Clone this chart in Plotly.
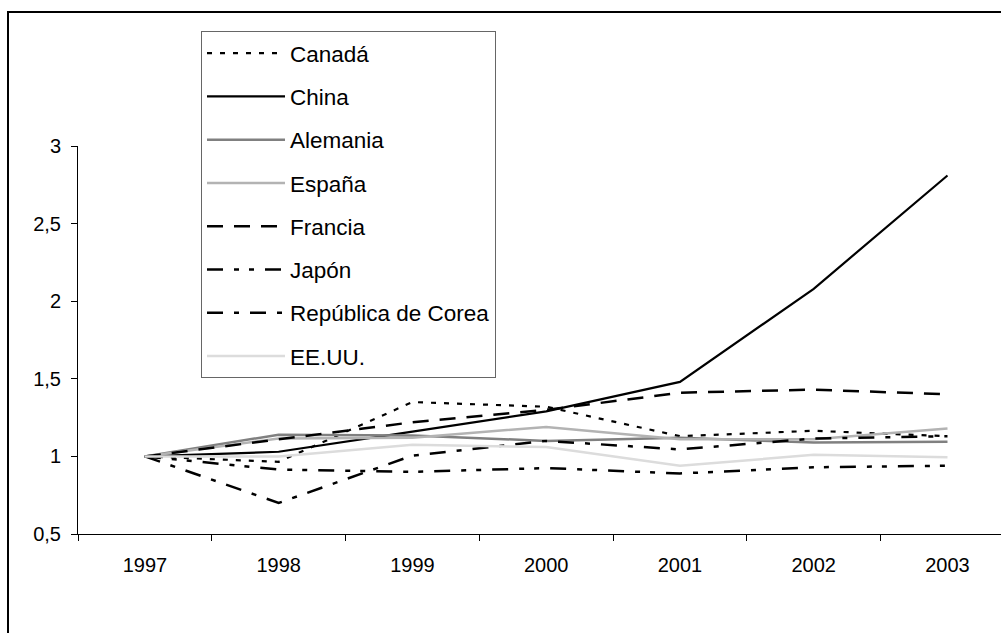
import plotly.graph_objects as go

years = [1997, 1998, 1999, 2000, 2001, 2002, 2003]

canada = [1.00, 0.965, 1.35, 1.32, 1.13, 1.165, 1.13]
china = [1.00, 1.03, 1.16, 1.29, 1.48, 2.08, 2.81]
alemania = [1.00, 1.14, 1.135, 1.10, 1.12, 1.09, 1.095]
espana = [1.00, 1.115, 1.12, 1.19, 1.11, 1.11, 1.18]
francia = [1.00, 1.11, 1.22, 1.30, 1.41, 1.43, 1.40]
japon = [1.00, 0.915, 0.90, 0.925, 0.89, 0.93, 0.94]
corea = [1.00, 0.70, 1.005, 1.10, 1.045, 1.115, 1.13]
eeuu = [1.00, 1.00, 1.075, 1.06, 0.94, 1.01, 0.995]

names = ["Canadá", "China", "Alemania", "España", "Francia", "Japón",
         "República de Corea", "EE.UU."]
series = [canada, china, alemania, espana, francia, japon, corea, eeuu]
styles = [
    dict(color="#000000", width=2.2, dash="5px,8px"),
    dict(color="#000000", width=2.2, dash="solid"),
    dict(color="#808080", width=2.5, dash="solid"),
    dict(color="#b3b3b3", width=2.5, dash="solid"),
    dict(color="#000000", width=2.5, dash="16px,11px"),
    dict(color="#000000", width=2.5, dash="16px,11px,5px,10px,5px,11px"),
    dict(color="#000000", width=2.5, dash="16px,11px,5px,11px"),
    dict(color="#dcdcdc", width=2.5, dash="solid"),
]

fig = go.Figure()
for i, (n, s, st) in enumerate(zip(names, series, styles)):
    fig.add_trace(go.Scatter(x=years, y=s, mode="lines", name=n,
                             line=st, legendgroup=f"g{i}"))

W, H = 1001, 633
L, R, T, B = 78, 0, 146, 99
pw, ph = W - L - R, H - T - B

def px(x):
    return (x - L) / pw

def py(y):
    return (H - B - y) / ph

fig.update_layout(
    width=W, height=H,
    margin=dict(l=L, r=R, t=T, b=B, pad=0),
    paper_bgcolor="white", plot_bgcolor="white",
    separators=",.",
    font=dict(family="Liberation Sans, Arial, sans-serif", size=20, color="black"),
    showlegend=True,
    legend=dict(
        x=px(201), y=py(31), xanchor="left", yanchor="top",
        bordercolor="#666666", borderwidth=1, bgcolor="white",
        font=dict(size=22.5), itemwidth=78, tracegroupgap=11,
        traceorder="grouped", maxheight=500,
    ),
    xaxis=dict(
        range=[1996.5, 2003.4], tickmode="array", tickvals=years,
        ticks="", showgrid=False, zeroline=False, showline=True,
        linecolor="#000000", linewidth=1,
        minor=dict(tickmode="array",
                   tickvals=[1996.5, 1997.5, 1998.5, 1999.5, 2000.5, 2001.5, 2002.5],
                   ticks="outside", ticklen=6, tickcolor="#000000", showgrid=False),
        ticklabelstandoff=13,
    ),
    yaxis=dict(
        range=[0.5, 3], tickmode="linear", tick0=0.5, dtick=0.5,
        ticks="outside", ticklen=6, tickcolor="#000000",
        showgrid=False, zeroline=False, showline=True,
        linecolor="#000000", linewidth=1, ticklabelstandoff=6,
    ),
    shapes=[dict(type="rect", xref="paper", yref="paper",
                 x0=px(8), y0=py(660), x1=px(1030), y1=py(12),
                 line=dict(color="#000000", width=2), fillcolor="rgba(0,0,0,0)",
                 layer="below")],
)

fig.write_html(
    "out.html",
    config={"displayModeBar": False},
    post_script="document.body.style.margin='0';document.body.style.overflow='hidden';",
)
